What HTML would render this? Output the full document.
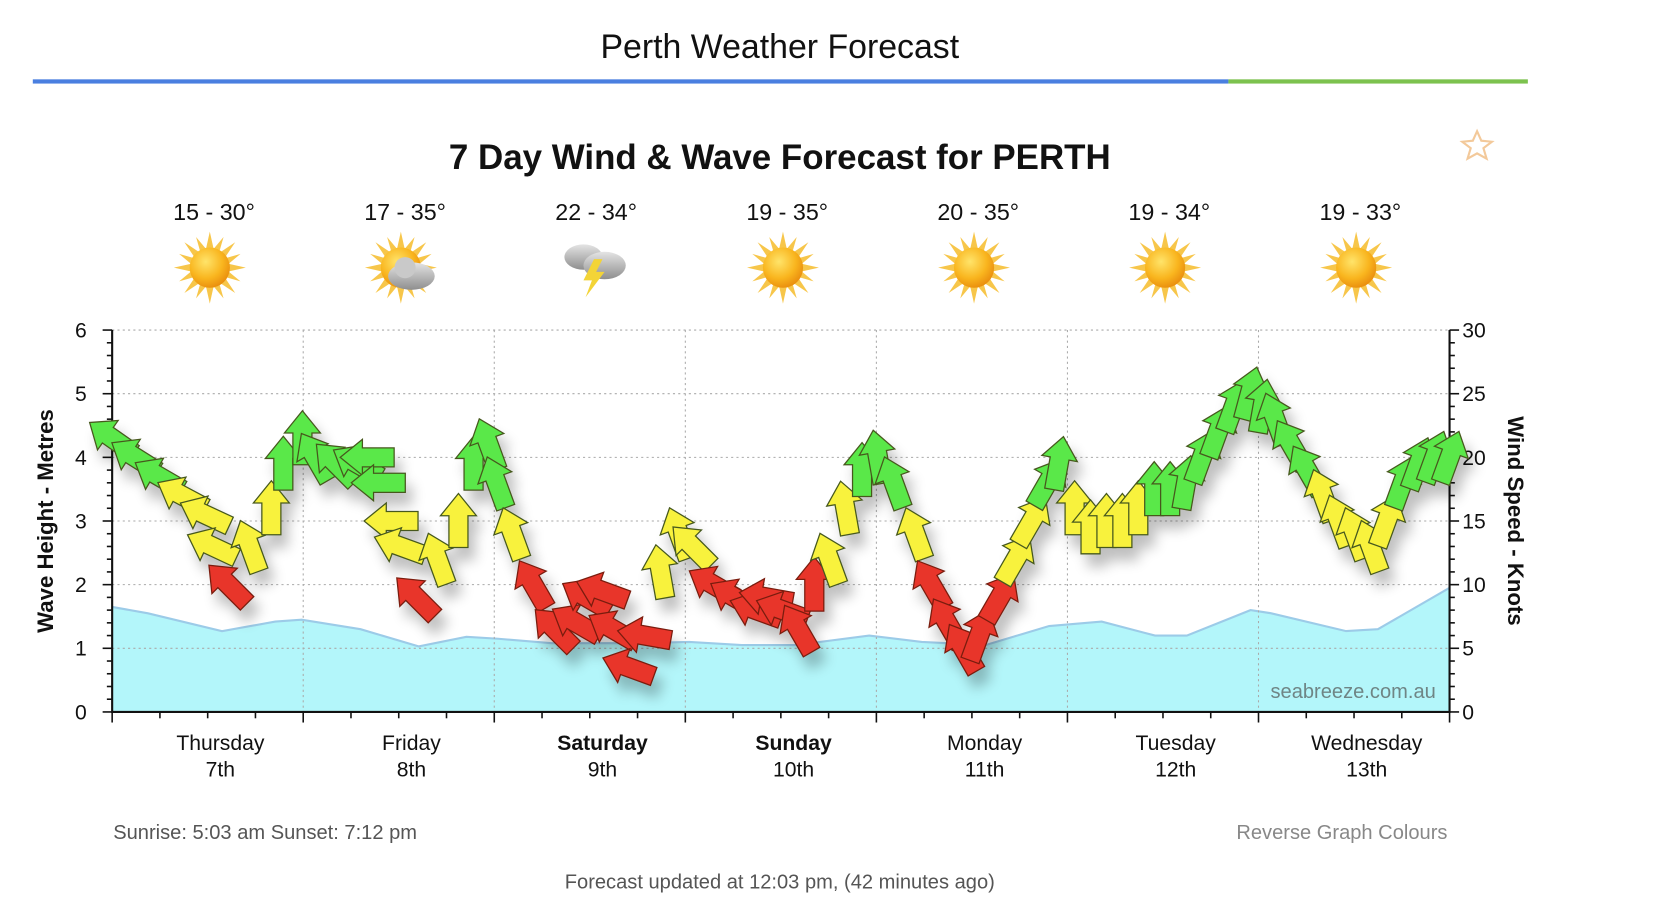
<!DOCTYPE html>
<html><head><meta charset="utf-8"><title>Perth Weather Forecast</title>
<style>html,body{margin:0;padding:0;background:#fff;overflow:hidden}svg{display:block}text{font-family:"Liberation Sans",Arial,sans-serif}</style>
</head><body>
<svg id="root" width="1658" height="914" viewBox="0 0 1567 864" preserveAspectRatio="none" xmlns="http://www.w3.org/2000/svg">
<defs>
<radialGradient id="sunG" cx="0.4" cy="0.35" r="0.7"><stop offset="0" stop-color="#ffe46a"/><stop offset="0.6" stop-color="#f9b51e"/><stop offset="1" stop-color="#e88a0c"/></radialGradient>
<linearGradient id="cloudG" x1="0" y1="0" x2="0" y2="1"><stop offset="0" stop-color="#e4e4e4"/><stop offset="1" stop-color="#8e8e8e"/></linearGradient>
<filter id="shadow" x="-50%" y="-50%" width="200%" height="200%"><feGaussianBlur in="SourceAlpha" stdDeviation="6"/><feOffset dx="6" dy="12"/><feComponentTransfer><feFuncA type="linear" slope="0.25"/></feComponentTransfer><feMerge><feMergeNode/><feMergeNode in="SourceGraphic"/></feMerge></filter>
<g id="sun"><g fill="#f7c64a"><polygon points="0,-34 4,-16 -4,-16"/><polygon points="0,34 4,16 -4,16"/><polygon points="-34,0 -16,4 -16,-4"/><polygon points="34,0 16,4 16,-4"/><polygon points="-24,-24 -9,-14 -14,-9"/><polygon points="24,24 9,14 14,9"/><polygon points="24,-24 14,-9 9,-14"/><polygon points="-24,24 -14,9 -9,14"/><polygon points="-13,-29 -3,-17 -9,-15"/><polygon points="13,29 3,17 9,15"/><polygon points="13,-29 9,-15 3,-17"/><polygon points="-13,29 -9,15 -3,17"/><polygon points="-29,-13 -15,-9 -17,-3"/><polygon points="29,13 15,9 17,3"/><polygon points="29,-13 17,-3 15,-9"/><polygon points="-29,13 -17,3 -15,9"/></g><circle r="19" fill="url(#sunG)"/></g>
</defs>

<text x="737" y="55" text-anchor="middle" font-size="32" fill="#111">Perth Weather Forecast</text>
<rect x="31" y="75" width="1130" height="4" fill="#4a7fe0"/>
<rect x="1161" y="75" width="283" height="4" fill="#7cc24e"/>

<text x="737" y="160" text-anchor="middle" font-size="33" font-weight="bold" fill="#111">7 Day Wind &amp; Wave Forecast for PERTH</text>
<polygon points="1396,124 1400,133 1410,134 1402,140 1405,150 1396,145 1387,150 1390,140 1382,134 1392,133" fill="none" stroke="#f3c99a" stroke-width="2"/>

<g id="days"></g>
<g id="plot"></g>

<text x="107" y="793" font-size="19" fill="#555">Sunrise: 5:03 am  Sunset: 7:12 pm</text>
<text x="1368" y="793" text-anchor="end" font-size="19" fill="#888">Reverse Graph Colours</text>
<text x="737" y="840" text-anchor="middle" font-size="19" fill="#555">Forecast updated at 12:03 pm, (42 minutes ago)</text>
</svg>
<script>
// ---- data ----
const dayNames = ["Thursday","Friday","Saturday","Sunday","Monday","Tuesday","Wednesday"];
const dayDates = ["7th","8th","9th","10th","11th","12th","13th"];
const dayBold = [false,false,true,true,false,false,false];
const tempLabels = ["15 - 30°","17 - 35°","22 - 34°","19 - 35°","20 - 35°","19 - 34°","19 - 33°"];
const dayIcons = ["sun","suncloud","storm","sun","sun","sun","sun"];
const waveHours = [0,4.5,13.8,20.5,23.8,31.2,38.5,44.5,48.5,55.2,65.9,72.5,79.1,85.8,95.1,101.7,109.7,117.7,124.3,131,135,143,145.6,155,159,168];
const waveHeights = [1.65,1.55,1.27,1.42,1.45,1.3,1.03,1.18,1.15,1.08,1.08,1.1,1.05,1.05,1.2,1.1,1.05,1.35,1.42,1.2,1.2,1.6,1.55,1.27,1.3,1.95];
const windHours = [0,2.9,5.9,8.8,11.7,12.6,14.6,17.3,20,21.5,23.9,25.5,28.1,30.8,32.1,33.5,35.1,36.2,38.2,40.9,43.5,45.4,47.3,48.3,50.3,52.9,55.6,58.3,59.6,61.6,62.9,64.9,66.9,68.9,71.2,72.9,75.5,78.2,80.9,82.2,84.2,86.2,88.2,90.1,92.1,94.2,96.2,98.2,100.9,102.9,104.9,106.9,108.9,111.5,113.5,115.5,117.5,118.9,120.9,122.9,124.9,126.9,128.9,130.9,132.9,134.9,136.9,138.9,140.9,142.9,144.5,146.1,148.1,150.1,152.1,154.1,156.1,158.1,160.1,162.1,164.1,166.1,168];
const windSpeeds = [21.5,20,18.5,17,15.5,13,10,13,16,19.5,21.5,20,19.5,19.5,20,18,15,13,9,12,15,19.5,21,18,14,10,6.5,7,9,9.5,6.5,3.5,6,11,14,13,10,9,8,9,8,6.5,10,12,16,19,20,18,14,10,7,5,6,9,12,15,18,19.5,16,14.5,15,15,16,17.5,17.5,18,20,22,24,25,24,23,21,19,17,15,14,13,15,18,19.5,20,20,20,20];
const windDirs = [-55,-58,-60,-62,-65,-65,-45,-20,0,0,0,-30,-45,-60,-90,-90,-90,-70,-45,-20,0,0,-20,-20,-20,-30,-45,-60,-60,-70,-60,-70,-80,-10,-20,-45,-60,-60,-70,-80,-70,-30,0,-20,-10,0,-10,-20,-20,-30,-30,-30,20,30,30,30,30,10,0,0,0,0,0,0,0,10,20,20,20,15,10,-20,-30,-30,-20,-20,-20,-20,20,20,20,20,20,15,0];
const leftTicks = ["0","1","2","3","4","5","6"];
const rightTicks = ["0","5","10","15","20","25","30"];

// ---- scales ----
const X0=106,X1=1370,Y0=673,Y1=312,HOURS=168;
const xs=h=>X0+h/HOURS*(X1-X0);
const yWave=m=>Y0-m/6*(Y0-Y1);
const yWind=k=>Y0-k/30*(Y0-Y1);
const NS="http://www.w3.org/2000/svg";
function mk(tag,attrs,parent){const e=document.createElementNS(NS,tag);for(const k in attrs)e.setAttribute(k,attrs[k]);parent.appendChild(e);return e;}
const plot=document.getElementById('plot'), days=document.getElementById('days');

for(let d=0;d<7;d++){
  const cx=xs(d*24+12)+6;
  const t=mk('text',{x:cx,y:208,'text-anchor':'middle','font-size':22,fill:'#111'},days);
  t.textContent=tempLabels[d];
  
  
  const g=mk('g',{transform:`translate(${cx-4},253)`},days);
  
  
  if(dayIcons[d]==='storm'){
    mk('ellipse',{cx:-8,cy:-10,rx:18,ry:12,fill:'url(#cloudG)'},g);
    mk('ellipse',{cx:12,cy:-2,rx:20,ry:13,fill:'url(#cloudG)'},g);
    mk('polygon',{points:'2,-8 -8,12 0,12 -6,28 12,4 4,4 10,-8',fill:'#f3d437'},g);
  }else{
    mk('use',{href:'#sun'},g);
    if(dayIcons[d]==='suncloud'){mk('ellipse',{cx:10,cy:8,rx:22,ry:13,fill:'url(#cloudG)'},g);mk('circle',{cx:4,cy:0,r:10,fill:'#c9c9c9'},g);}
  }
  const n=mk('text',{x:xs(d*24+12)+12,y:709,'text-anchor':'middle','font-size':20,fill:'#111','font-weight':dayBold[d]?'bold':'normal'},plot);
  n.textContent=dayNames[d];
  
  
  const dt=mk('text',{x:xs(d*24+12)+12,y:734,'text-anchor':'middle','font-size':20,fill:'#111'},plot);
  dt.textContent=dayDates[d];
  
  
}

let pts=waveHours.map((h,i)=>`${xs(h)},${yWave(waveHeights[i])}`);
const area=mk('polygon',{points:`${X0},${Y0} ${pts.join(' ')} ${X1},${Y0}`,fill:'#b3f6fa'},plot);


const wl=mk('polyline',{points:pts.join(' '),fill:'none',stroke:'#9ccbe8','stroke-width':2},plot);



for(let i=1;i<=6;i++){
  const gl=mk('line',{x1:X0,x2:X1,y1:yWave(i),y2:yWave(i),stroke:'#aaa','stroke-dasharray':'2,3','stroke-width':1},plot);
  
  
}
for(let d=1;d<7;d++){
  const gl=mk('line',{x1:xs(d*24),x2:xs(d*24),y1:Y1,y2:Y0,stroke:'#aaa','stroke-dasharray':'2,3','stroke-width':1},plot);
  
  
}

const axL=mk('line',{x1:X0,x2:X0,y1:Y1,y2:Y0+1,stroke:'#111','stroke-width':2},plot);


const axR=mk('line',{x1:X1,x2:X1,y1:Y1,y2:Y0+1,stroke:'#111','stroke-width':2},plot);


const axB=mk('line',{x1:X0,x2:X1,y1:Y0,y2:Y0,stroke:'#111','stroke-width':2},plot);


for(let i=0;i<=30;i++){
  const y=Y0-i/30*(Y0-Y1), L=i%5===0?9:5;
  mk('line',{x1:X0-L,x2:X0,y1:y,y2:y,stroke:'#111','stroke-width':1.5},plot);
  mk('line',{x1:X1,x2:X1+L,y1:y,y2:y,stroke:'#111','stroke-width':1.5},plot);
}
for(let i=0;i<7;i++){
  const l=mk('text',{x:82,y:yWave(i)+7,'text-anchor':'end','font-size':20,fill:'#111'},plot);
  l.textContent=leftTicks[i];
  
  
  const r=mk('text',{x:1382,y:yWind(i*5)+7,'font-size':20,fill:'#111'},plot);
  r.textContent=rightTicks[i];
  
  
}
for(let h=0;h<=HOURS;h+=6){
  const L=h%24===0?10:6;
  mk('line',{x1:xs(h),x2:xs(h),y1:Y0,y2:Y0+L,stroke:'#111','stroke-width':1.5},plot);
}
const lt=mk('text',{x:0,y:0,'text-anchor':'middle','font-size':21,'font-weight':'bold',fill:'#111',transform:`translate(50,${(Y0+Y1)/2}) rotate(-90)`},plot);
lt.textContent='Wave Height - Metres';


const rt=mk('text',{x:0,y:0,'text-anchor':'middle','font-size':21,'font-weight':'bold',fill:'#111',transform:`translate(1425,${(Y0+Y1)/2}) rotate(90)`},plot);
rt.textContent='Wind Speed - Knots';


const wm=mk('text',{x:1357,y:660,'text-anchor':'end','font-size':19,fill:'#6f8585'},plot);
wm.textContent='seabreeze.com.au';



const ag=mk('g',{filter:'url(#shadow)'},plot);


windHours.forEach((h,i)=>{
  const s=windSpeeds[i];
  const fill=s<10.5?'#e8362a':(s<17.5?'#f8f23e':'#5ae84a');
  const stroke=s<10.5?'#7a1c10':'#46591f';
  const a=mk('polygon',{points:'-9,25 9,25 9,-5 17,-5 0,-26 -17,-5 -9,-5',fill:fill,stroke:stroke,'stroke-width':1.2,transform:`translate(${xs(h)},${yWind(s)}) rotate(${windDirs[i]})`},ag);
  
  
});
</script>
</body></html>
